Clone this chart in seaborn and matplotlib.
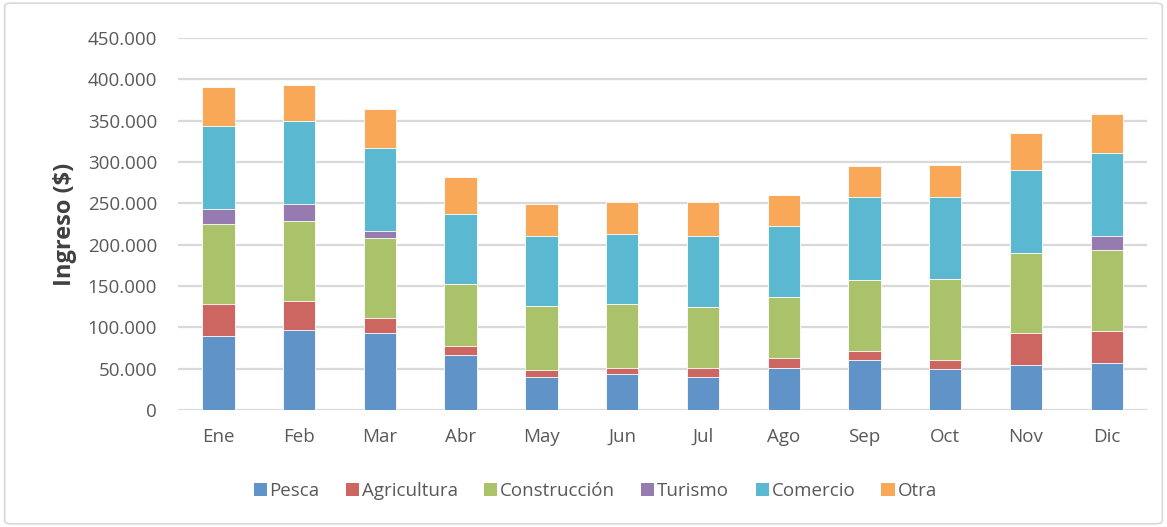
import numpy as np
import pandas as pd
import matplotlib.pyplot as plt
import seaborn as sns
from matplotlib.patches import Patch, FancyBboxPatch
from matplotlib.ticker import FuncFormatter

sns.set_theme(style='white')
plt.rcParams['font.family'] = ['Open Sans', 'DejaVu Sans']

# datos
meses = ['Ene', 'Feb', 'Mar', 'Abr', 'May', 'Jun', 'Jul', 'Ago', 'Sep', 'Oct', 'Nov', 'Dic']
sectores = ['Pesca', 'Agricultura', 'Construcción', 'Turismo', 'Comercio', 'Otra']
pesca = [90000, 97000, 93000, 67000, 40000, 43000, 40000, 51000, 60000, 49000, 55000, 57000]
agricultura = [38000, 35000, 18000, 11000, 8500, 8000, 11000, 12000, 11500, 11500, 38000, 39000]
construccion = [97000, 97000, 97500, 74000, 77000, 77000, 74000, 74000, 86000, 97500, 97000, 97000]
turismo = [18000, 20000, 8500, 0, 0, 0, 0, 0, 0, 0, 0, 17500]
comercio = [100000, 100000, 100000, 85000, 85000, 85000, 85000, 85000, 100000, 100000, 100000, 100000]
otra = [47500, 44500, 47000, 44500, 39000, 39000, 41500, 38500, 38000, 38000, 44500, 47000]
colores = ['#6094C8', '#CD6660', '#AAC36B', '#957BB0', '#5BB8D1', '#F9A857']

df = pd.DataFrame({'Mes': meses, 'Pesca': pesca, 'Agricultura': agricultura,
                   'Construcción': construccion, 'Turismo': turismo,
                   'Comercio': comercio, 'Otra': otra})
acum = df[sectores].cumsum(axis=1)

fig = plt.figure(figsize=(11.67, 5.27), dpi=100)
ax = fig.add_axes([0.1525, 0.222, 0.8305, 0.706])

# barras apiladas: se dibujan de la suma total hacia abajo
for s, c in reversed(list(zip(sectores, colores))):
    sns.barplot(x=df['Mes'], y=acum[s], color=c, width=0.4, ax=ax,
                saturation=1, edgecolor='white', linewidth=0.6)

ax.set_ylim(0, 450000)
ax.set_xlim(-0.5, len(meses) - 0.5)
ax.set_yticks(np.arange(0, 450001, 50000))
ax.yaxis.set_major_formatter(FuncFormatter(lambda v, p: f'{v:,.0f}'.replace(',', '.')))
ax.grid(axis='y', color='#D9D9D9', linewidth=1.6)
ax.set_axisbelow(True)
for sp in ax.spines.values():
    sp.set_visible(False)
ax.tick_params(axis='both', colors='#595959', labelsize=13.5, length=0)
ax.tick_params(axis='y', pad=15)
ax.tick_params(axis='x', pad=13)
ax.set_xlabel('')
ax.set_ylabel('Ingreso ($)', fontsize=17, fontweight='bold', color='#404040', labelpad=8)

handles = [Patch(facecolor=c, edgecolor='none', label=s) for s, c in zip(sectores, colores)]
fig.legend(handles=handles, loc='center', bbox_to_anchor=(0.51, 0.068), ncol=6,
           frameon=False, fontsize=13.5, handlelength=0.7, handleheight=0.7,
           handletextpad=0.15, columnspacing=1.4, labelcolor='#595959')

# borde exterior del grafico
fig.patches.append(FancyBboxPatch((0.004, 0.006), 0.992, 0.988, boxstyle='round,pad=0,rounding_size=0.006',
                                  transform=fig.transFigure, facecolor='none',
                                  edgecolor='#D9D9D9', linewidth=1.2))

fig.savefig('out.png', dpi=100)
